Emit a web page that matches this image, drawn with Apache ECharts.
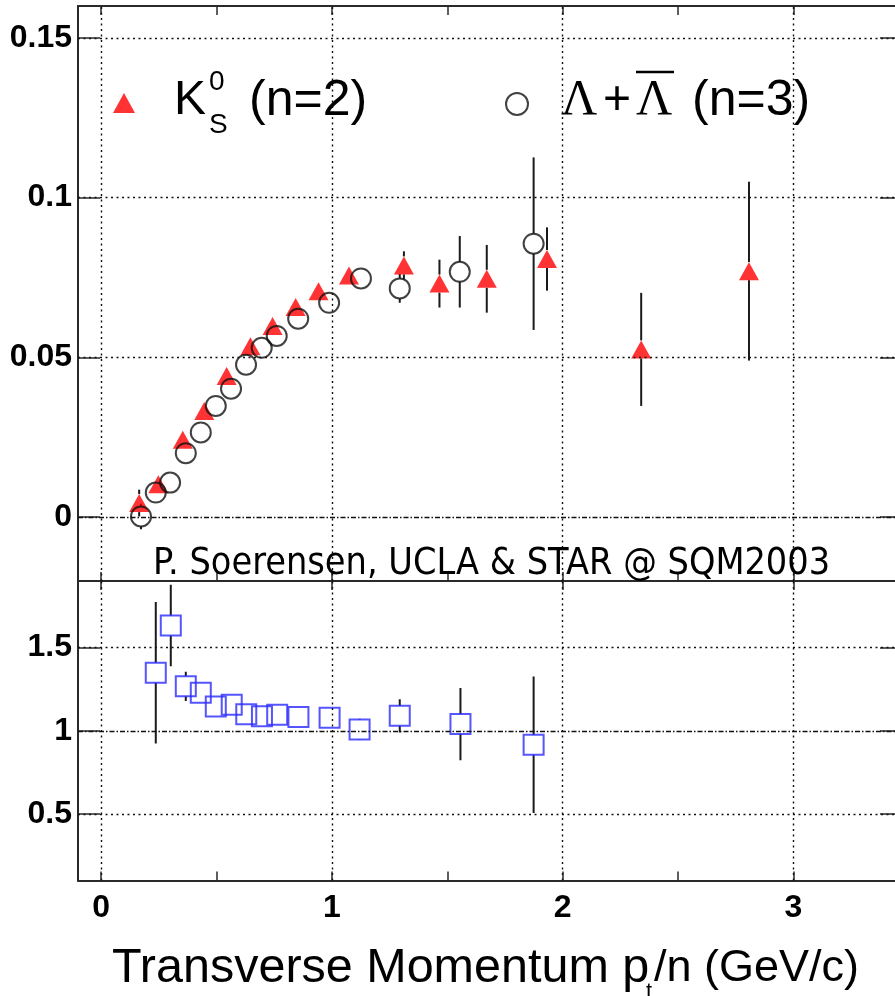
<!DOCTYPE html>
<html>
<head>
<meta charset="utf-8">
<script src="https://cdn.jsdelivr.net/npm/echarts@6/dist/echarts.min.js"></script>
<style>
  html, body { margin: 0; padding: 0; background: #ffffff; }
  #chart { width: 895px; height: 996px; }
</style>
</head>
<body>
<div id="chart"></div>
<script>
// K0s elliptic flow scaled by quark number (n=2)
const ksPt  = [0.165, 0.248, 0.354, 0.447, 0.544, 0.647, 0.743, 0.843, 0.942, 1.074, 1.312, 1.466, 1.671, 1.932, 2.340, 2.807];
const ksV2  = [0.0044, 0.0103, 0.0242, 0.0332, 0.0442, 0.0535, 0.0598, 0.0658, 0.0707, 0.0756, 0.0788, 0.0731, 0.0746, 0.0808, 0.0525, 0.0770];
const ksErr = [0.0042, 0.0020, 0.0020, 0.0020, 0.0020, 0.0020, 0.0020, 0.0020, 0.0020, 0.0020, 0.0044, 0.0075, 0.0106, 0.0099, 0.0177, 0.0280];

// Lambda + anti-Lambda elliptic flow scaled by quark number (n=3)
const lamPt  = [0.173, 0.237, 0.299, 0.367, 0.432, 0.497, 0.563, 0.628, 0.696, 0.761, 0.854, 0.988, 1.126, 1.294, 1.554, 1.874];
const lamV2  = [0.0002, 0.0077, 0.0108, 0.0200, 0.0265, 0.0348, 0.0402, 0.0477, 0.0530, 0.0567, 0.0621, 0.0671, 0.0747, 0.0716, 0.0768, 0.0856];
const lamErr = [0.0040, 0.0020, 0.0020, 0.0020, 0.0020, 0.0020, 0.0020, 0.0020, 0.0020, 0.0020, 0.0020, 0.0020, 0.0020, 0.0045, 0.0112, 0.0270];

// Ratio of the two scaled curves
const ratioPt  = [0.237, 0.302, 0.367, 0.432, 0.497, 0.566, 0.629, 0.697, 0.763, 0.855, 0.990, 1.120, 1.294, 1.557, 1.874];
const ratioVal = [1.349, 1.633, 1.267, 1.229, 1.145, 1.157, 1.099, 1.087, 1.096, 1.083, 1.078, 1.008, 1.090, 1.040, 0.916];
const ratioErr = [0.425, 0.245, 0.088, 0.050, 0.040, 0.040, 0.040, 0.040, 0.040, 0.040, 0.040, 0.064, 0.100, 0.217, 0.410];

// Axis ticks and labels
const xTickValues   = [0, 0.5, 1, 1.5, 2, 2.5, 3];
const xMajorValues  = [0, 1, 2, 3];
const xLabels       = ['0', '1', '2', '3'];
const topYValues    = [0, 0.05, 0.1, 0.15];
const topYLabels    = ['0', '0.05', '0.1', '0.15'];
const botYValues    = [0.5, 1, 1.5];
const botYLabels    = ['0.5', '1', '1.5'];

const FRAME = '#2a2a2a';
const labelFont = { fontFamily: 'Liberation Sans', fontWeight: 'bold', fontSize: 32, color: '#000' };
const dotted = { color: '#111', width: 1.4, type: [2, 3.5] };
const dashDot = { color: '#111', width: 1.4, type: [5, 2, 1.5, 2] };

function lookup(values, labels) {
  return v => {
    const i = values.findIndex(t => Math.abs(t - v) < 1e-9);
    return i >= 0 ? labels[i] : '';
  };
}

function xAxisDef(gridIndex, position, ticks, showLabels) {
  return {
    type: 'value', gridIndex, position, min: -0.1, max: 3.47,
    axisLine: { show: true, onZero: false, lineStyle: { color: FRAME, width: 2 } },
    axisTick: { show: true, inside: true, length: 9, customValues: ticks, lineStyle: { color: FRAME, width: 1.5 } },
    axisLabel: showLabels
      ? Object.assign({ show: true, margin: 12, customValues: xMajorValues, formatter: lookup(xMajorValues, xLabels) }, labelFont)
      : { show: false },
    splitLine: { show: false }
  };
}

function yAxisDef(gridIndex, position, min, max, values, labels) {
  return {
    type: 'value', gridIndex, position, min, max,
    axisLine: { show: true, onZero: false, lineStyle: { color: FRAME, width: 2 } },
    axisTick: { show: true, inside: true, length: 22, customValues: values, lineStyle: { color: FRAME, width: 1.5 } },
    axisLabel: labels
      ? Object.assign({ show: true, margin: 6, padding: [6, 0, 0, 0], customValues: values, formatter: lookup(values, labels) }, labelFont)
      : { show: false },
    splitLine: { show: false }
  };
}

// Vertical error bars that stop at the marker edge
function errorBars(xs, ys, es, xi, yi, gap) {
  return {
    type: 'custom', xAxisIndex: xi, yAxisIndex: yi, clip: true, z: 2, silent: true,
    encode: { x: 0, y: 1 },
    data: xs.map((x, i) => [x, ys[i], es[i]]),
    renderItem(params, api) {
      const x = api.value(0), y = api.value(1), e = api.value(2);
      const c = api.coord([x, y]);
      const hi = api.coord([x, y + e])[1];
      const lo = api.coord([x, y - e])[1];
      const style = { stroke: '#1a1a1a', lineWidth: 2 };
      const children = [];
      if (c[1] - gap > hi) children.push({ type: 'line', shape: { x1: c[0], y1: hi, x2: c[0], y2: c[1] - gap }, style });
      if (lo > c[1] + gap) children.push({ type: 'line', shape: { x1: c[0], y1: c[1] + gap, x2: c[0], y2: lo }, style });
      return { type: 'group', children };
    }
  };
}

// Reference grid lines for one panel
function gridLines(xi, yi, dottedY, dashY) {
  return {
    type: 'line', xAxisIndex: xi, yAxisIndex: yi, data: [], z: 1, silent: true,
    markLine: {
      silent: true, symbol: ['none', 'none'], label: { show: false }, animation: false,
      emphasis: { disabled: true },
      data: [
        ...xMajorValues.map(v => ({ xAxis: v, lineStyle: dotted })),
        ...dottedY.map(v => ({ yAxis: v, lineStyle: dotted })),
        ...dashY.map(v => ({ yAxis: v, lineStyle: dashDot }))
      ]
    }
  };
}

const chart = echarts.init(document.getElementById('chart'), null, { renderer: 'canvas' });

const txt = (x, y, text, font, extra) => Object.assign({
  type: 'text', x, y, silent: true, z: 10,
  style: { text, font, fill: '#000', align: 'left', verticalAlign: 'middle' }
}, extra || {});

chart.setOption({
  animation: false,
  backgroundColor: '#ffffff',
  grid: [
    { left: 78, top: 6, width: 824, height: 575, outerBoundsMode: 'none', containLabel: false },
    { left: 78, top: 581, width: 824, height: 299.5, outerBoundsMode: 'none', containLabel: false }
  ],
  xAxis: [
    xAxisDef(0, 'bottom', xTickValues, false),
    xAxisDef(0, 'top', xTickValues, false),
    xAxisDef(1, 'bottom', xTickValues, true),
    xAxisDef(1, 'top', xMajorValues, false)
  ],
  yAxis: [
    yAxisDef(0, 'left', -0.02, 0.16, topYValues, topYLabels),
    yAxisDef(0, 'right', -0.02, 0.16, topYValues, null),
    yAxisDef(1, 'left', 0.1, 1.9, botYValues, botYLabels),
    yAxisDef(1, 'right', 0.1, 1.9, botYValues, null)
  ],
  legend: [
    {
      data: ['K0S'], left: 113, top: 93, padding: 0, icon: 'triangle',
      itemWidth: 22, itemHeight: 20, formatter: () => '', selectedMode: false
    },
    {
      data: ['Lambda'], left: 505, top: 92, padding: 0, icon: 'circle',
      itemWidth: 22, itemHeight: 22, formatter: () => '', selectedMode: false
    }
  ],
  series: [
    gridLines(0, 0, [0.05, 0.1, 0.15], [0]),
    gridLines(2, 2, [0.5, 1.5], [1]),
    errorBars(ksPt, ksV2, ksErr, 0, 0, 9),
    errorBars(lamPt, lamV2, lamErr, 0, 0, 10),
    errorBars(ratioPt, ratioVal, ratioErr, 2, 2, 10),
    {
      name: 'K0S', type: 'scatter', xAxisIndex: 0, yAxisIndex: 0, z: 3,
      symbol: 'triangle', symbolSize: [20, 18],
      itemStyle: { color: '#ff0000' },
      data: ksPt.map((x, i) => [x, ksV2[i]])
    },
    {
      name: 'Lambda', type: 'scatter', xAxisIndex: 0, yAxisIndex: 0, z: 4,
      symbol: 'circle', symbolSize: 20,
      itemStyle: { color: 'rgba(0,0,0,0)', borderColor: '#111', borderWidth: 2 },
      data: lamPt.map((x, i) => [x, lamV2[i]])
    },
    {
      name: 'Ratio', type: 'scatter', xAxisIndex: 2, yAxisIndex: 2, z: 4,
      symbol: 'rect', symbolSize: 20,
      itemStyle: { color: 'rgba(0,0,0,0)', borderColor: '#2b2bff', borderWidth: 2 },
      data: ratioPt.map((x, i) => [x, ratioVal[i]])
    }
  ],
  graphic: [
    // legend labels
    txt(174, 101, 'K', '48px "Liberation Sans"'),
    txt(209, 82, '0', '28px "Liberation Sans"'),
    txt(209, 125, 'S', '28px "Liberation Sans"'),
    txt(249, 101, '(n=2)', '50px "Liberation Sans"'),
    txt(561, 101, 'Λ', '50px "Liberation Serif"'),
    txt(603, 101, '+', '48px "Liberation Sans"'),
    txt(636, 101, 'Λ', '50px "Liberation Serif"'),
    { type: 'line', silent: true, z: 10, shape: { x1: 636, y1: 72, x2: 674, y2: 72 }, style: { stroke: '#000', lineWidth: 2.5 } },
    txt(692, 101, '(n=3)', '50px "Liberation Sans"'),
    // credit line
    txt(153, 564, 'P. Soerensen, UCLA & STAR @ SQM2003', '37px "DejaVu Sans"', { scaleX: 0.91, originX: 0, originY: 0 }),
    // x-axis title
    txt(112, 969, 'Transverse Momentum p', '48.5px "Liberation Sans"'),
    txt(646, 992, 't', '22px "Liberation Sans"'),
    txt(654, 969, '/n (GeV/c)', '45px "Liberation Sans"')
  ]
});
</script>
</body>
</html>
